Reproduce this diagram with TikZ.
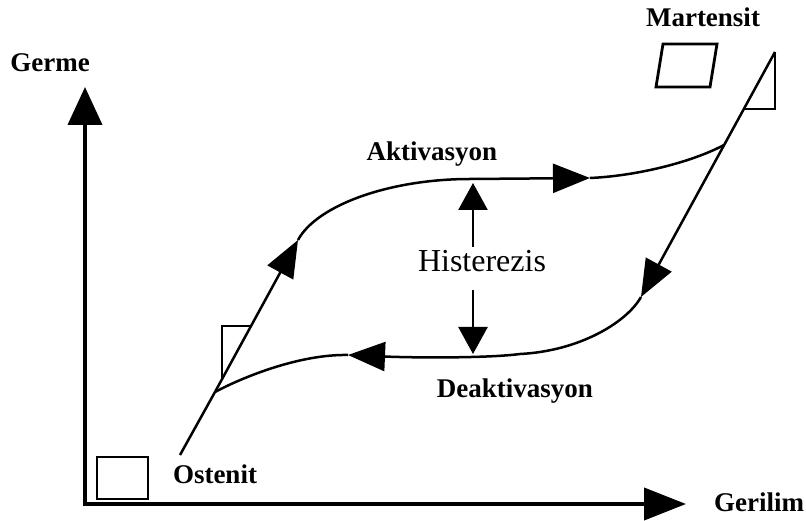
\documentclass[tikz,border=0pt]{standalone}
\usepackage{fontspec}
\setmainfont{Liberation Serif}
\usetikzlibrary{arrows.meta}

\tikzset{
    lbl/.style={anchor=base, font=\bfseries\fontsize{27}{30}\selectfont},
    curve/.style={line width=2.5pt},
    tip/.style={-{Triangle[length=37pt,width=29pt]}},
    box/.style={line width=2.8pt},
}

\begin{document}
\begin{tikzpicture}[x=1pt,y=-1pt]
            \useasboundingbox (0,0) rectangle (806,521);

            % axes
            \coordinate (O) at (85,504);
            \coordinate (ytop) at (85,87);
            \coordinate (xend) at (686,504);
            \draw[line width=4pt, {Triangle[length=38pt,width=34pt]}-{Triangle[length=42pt,width=32pt]}] (ytop) -- (O) -- (xend);

            % points of the loop
            \coordinate (start) at (180,455);
            \coordinate (junc) at (215,392);
            \coordinate (up) at (298,240);
            \coordinate (topflat) at (470,179);
            \coordinate (rarr) at (590,178);
            \coordinate (joint) at (724,145);
            \coordinate (peak) at (775,52);
            \coordinate (darr) at (641,297);
            \coordinate (lowflat) at (520,354);
            \coordinate (larr) at (348,355);

            % loading branch
            \draw[curve] (start) -- (junc);
            \draw[curve, tip] (junc) -- (up);
            \draw[curve] (up) .. controls (317,205) and (390,179) .. (topflat);
            \draw[curve, tip] (topflat) -- (rarr);
            \draw[curve] (rarr) .. controls (635,176) and (690,163) .. (joint);

            % unloading branch
            \draw[curve, tip] (peak) -- (darr);
            \draw[curve] (darr) .. controls (627,322) and (580,351) .. (lowflat);
            \draw[curve, tip] (lowflat) .. controls (490,358) and (420,358) .. (larr);
            \draw[curve] (larr) .. controls (300,354) and (243,377) .. (junc);

            % small shapes
            \draw[box] (97,457) rectangle (148,499);
            \draw[box] (656,87) -- (710,87) -- (717,44) -- (663,44) -- cycle;
            \draw[box] (222,378) -- (222,326) -- (251,326);
            \draw[box] (peak) -- (775,109) -- (744,109);

            % hysteresis width
            \node[anchor=base, font=\fontsize{32}{36}\selectfont] (hist) at (482,272) {Histerezis};
            \coordinate (hup) at (473,183);
            \coordinate (hdown) at (473,354);
            \coordinate (hupfoot) at (473,247);
            \coordinate (hdownfoot) at (473,290);
            \draw[line width=2.5pt, -{Triangle[length=27pt,width=29pt]}] (hupfoot) -- (hup);
            \draw[line width=2.5pt, -{Triangle[length=27pt,width=29pt]}] (hdownfoot) -- (hdown);

            % labels
            \node[lbl] (germe) at (50,72) {Germe};
            \node[lbl] (martensit) at (703,27) {Martensit};
            \node[lbl] (aktiv) at (432,161) {Aktivasyon};
            \node[lbl] (deaktiv) at (515,397) {Deaktivasyon};
            \node[lbl] (ostenit) at (215,483) {Ostenit};
            \node[lbl] (gerilim) at (759,511) {Gerilim};
        \end{tikzpicture}
\end{document}
